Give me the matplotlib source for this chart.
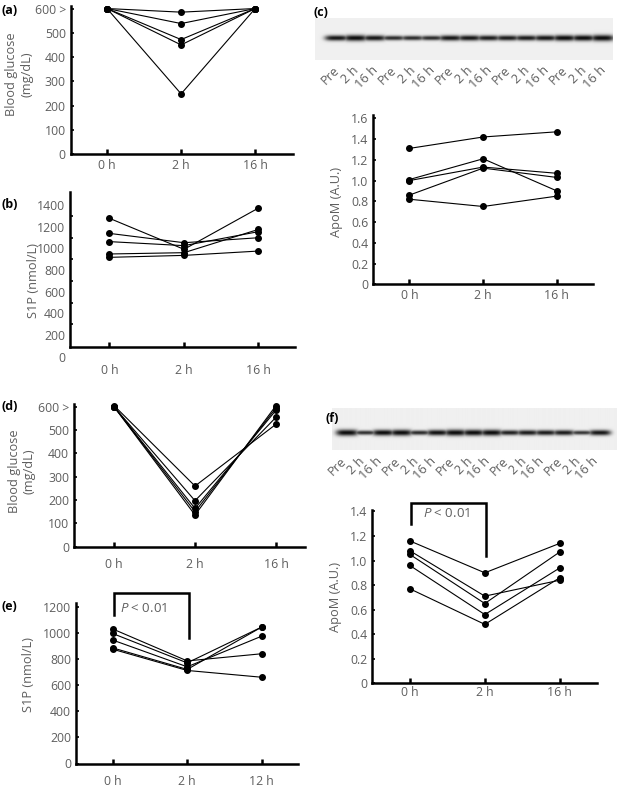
"""Blood glucose, S1P and ApoM time courses with western blots (panels a-f)."""

import matplotlib

matplotlib.use("Agg")
import matplotlib.pyplot as plt
import numpy as np

plt.rcParams["font.family"] = ["Open Sans", "DejaVu Sans"]
plt.rcParams["mathtext.fontset"] = "custom"
plt.rcParams["mathtext.rm"] = "Open Sans"
plt.rcParams["mathtext.it"] = "Open Sans:italic"

W, H = 620, 790
GREY = "#5e5e5e"
TICK_FS = 8.8

# ---- data ----
times_16 = ["0 h", "2 h", "16 h"]
times_12 = ["0 h", "2 h", "12 h"]
lane_labels = ["Pre", "2 h", "16 h"] * 5

glucose_a = [
    [600, 585, 600],
    [600, 538, 600],
    [600, 472, 600],
    [600, 450, 600],
    [600, 248, 600],
]
s1p_b = [
    [1277, 991, 1372],
    [1138, 1052, 1098],
    [1062, 1025, 1154],
    [948, 960, 1175],
    [917, 935, 975],
]
apom_c = [
    [1.31, 1.42, 1.47],
    [1.01, 1.21, 0.90],
    [1.00, 1.13, 1.07],
    [0.86, 1.12, 1.03],
    [0.82, 0.75, 0.85],
]
glucose_d = [
    [605, 260, 525],
    [600, 197, 555],
    [600, 164, 585],
    [600, 150, 595],
    [600, 136, 605],
]
s1p_e = [
    [1030, 785, 840],
    [995, 770, 1045],
    [945, 740, 975],
    [885, 720, 1045],
    [875, 712, 660],
]
apom_f = [
    [1.16, 0.90, 1.14],
    [1.08, 0.71, 0.84],
    [1.05, 0.65, 1.07],
    [0.96, 0.56, 0.94],
    [0.77, 0.48, 0.86],
]
band_c = [0.8, 0.95, 0.8, 0.6, 0.6, 0.6, 0.8, 0.8, 0.75, 0.75, 0.75, 0.8, 0.9, 0.9, 1.0]
band_f = [1.0, 0.55, 0.9, 0.95, 0.6, 0.85, 1.0, 0.95, 0.95, 0.7, 0.75, 0.75, 0.75, 0.5, 0.8]


def px_axes(fig, x0, x1, y_top, y_bot):
    return fig.add_axes([x0 / W, 1 - y_bot / H, (x1 - x0) / W, (y_bot - y_top) / H])


def fig_text(fig, x, y, s, **kw):
    return fig.text(x / W, 1 - y / H, s, **kw)


def line_panel(fig, box, xlim, ylim, series, xlabels, yticks, ylabels, xpad, spine_at=None):
    ax = px_axes(fig, *box)
    xs = np.arange(len(xlabels))
    for s in series:
        ax.plot(xs, s, "-o", color="black", lw=0.8, ms=4.0, clip_on=False, zorder=3)
    ax.set_xlim(*xlim)
    ax.set_ylim(*ylim)
    ax.set_xticks(xs)
    ax.set_xticklabels(xlabels)
    ax.set_yticks(yticks)
    ax.set_yticklabels(ylabels)
    for side in ("top", "right"):
        ax.spines[side].set_visible(False)
    for side in ("left", "bottom"):
        ax.spines[side].set_linewidth(1.8)
    ax.tick_params(axis="x", direction="in", length=3.5, width=1.8, pad=xpad,
                   labelsize=TICK_FS, labelcolor=GREY)
    ax.tick_params(axis="y", direction="in", length=2.5, width=1.2, pad=3.5,
                   labelsize=TICK_FS, labelcolor=GREY)
    if spine_at is not None:
        ax.spines["bottom"].set_position(("data", spine_at))
        ax.spines["left"].set_bounds(spine_at, ylim[1])
    ax.patch.set_alpha(0)
    return ax


def bracket(ax, x0, x1, top, left_bot, right_bot, text_x, text_y):
    ax.plot([x0, x0, x1, x1], [left_bot, top, top, right_bot], color="black",
            lw=1.8, clip_on=False, solid_joinstyle="miter")
    ax.text(text_x, text_y, r"$P$ < 0.01", fontsize=9.5, color=GREY, va="center",
            ha="left", clip_on=False)


def draw_blot(fig, box, lane_span, band_y, intensity, label_y, label_dx):
    x0, x1, y0, y1 = box
    ax = px_axes(fig, x0, x1, y0, y1)
    xs = np.linspace(x0, x1, int((x1 - x0) * 4))
    ys = np.linspace(y0, y1, int((y1 - y0) * 4))
    n = len(intensity)
    lane_w = (lane_span[1] - lane_span[0]) / n
    centers = lane_span[0] + lane_w * (np.arange(n) + 0.5)
    dark = np.zeros((len(ys), len(xs)))
    for c, k in zip(centers, intensity):
        prof_x = np.exp(-((xs - c) / (lane_w * 0.62)) ** 4)
        sig = 1.0 + 2.2 * k
        prof_y = np.exp(-((ys - band_y) / sig) ** 2)
        dark = np.maximum(dark, min(1.0, 0.6 + 0.45 * k) * np.outer(prof_y, prof_x))
    img = 0.94 - 0.9 * np.clip(dark, 0, 1)
    ax.imshow(img, cmap="gray", vmin=0, vmax=1, extent=(x0, x1, y1, y0),
              aspect="auto", interpolation="bilinear")
    ax.set_axis_off()
    for c, lab in zip(centers, lane_labels):
        fig_text(fig, c + label_dx, label_y, lab, rotation=45, ha="right", va="top",
                 fontsize=9.2, color=GREY)


def main():
    fig = plt.figure(figsize=(W / 100, H / 100), dpi=100)

    g_ticks = list(range(0, 601, 100))
    g_labels = [str(v) for v in g_ticks[:-1]] + ["600 >"]

    # (a)
    line_panel(fig, (70.7, 293, 6.1, 154), (-0.49, 2.51), (0, 610), glucose_a,
               times_16, g_ticks, g_labels, xpad=3.5)

    # (b)
    b_ticks = list(range(0, 1401, 200))
    ax_b = line_panel(fig, (70, 295, 192, 356.7), (-0.53, 2.49), (0, 1520), s1p_b,
                      times_16, b_ticks, [str(v) for v in b_ticks], xpad=12.5,
                      spine_at=92)
    ax_b.tick_params(axis="y", which="major", length=0)
    ax_b.set_yticks(range(300, 1400, 200), minor=True)
    ax_b.tick_params(axis="y", which="minor", direction="in", length=2.5, width=1.2)

    # (c)
    a_ticks = [round(0.2 * i, 1) for i in range(9)]
    draw_blot(fig, (315, 613, 18, 60), (327, 612), 38, band_c, label_y=64, label_dx=6)
    line_panel(fig, (373.3, 593, 115.2, 284.3), (-0.49, 2.49), (0, 1.63), apom_c,
               times_16, a_ticks, ["0"] + [f"{v:.1f}" for v in a_ticks[1:]], xpad=3.5)

    # (d)
    line_panel(fig, (74, 305, 404.4, 546.7), (-0.494, 2.358), (0, 610), glucose_d,
               times_16, g_ticks, g_labels, xpad=8)

    # (e)
    e_ticks = list(range(0, 1201, 200))
    ax_e = line_panel(fig, (76, 297.7, 603.3, 763.5), (-0.49, 2.48), (0, 1226), s1p_e,
                      times_12, e_ticks, [str(v) for v in e_ticks], xpad=8)
    bracket(ax_e, 0.02, 1.02, 1307, 1137, 959, 0.1, 1188)

    # (f)
    f_ticks = [round(0.2 * i, 1) for i in range(8)]
    draw_blot(fig, (332, 616, 408, 450), (338, 608), 432.7, band_f, label_y=455, label_dx=2)
    ax_f = line_panel(fig, (372.3, 597.3, 510.2, 683.3), (-0.5, 2.5), (0, 1.41), apom_f,
                      times_16, f_ticks, ["0"] + [f"{v:.1f}" for v in f_ticks[1:]], xpad=2)
    bracket(ax_f, 0.02, 1.01, 1.47, 1.30, 1.04, 0.17, 1.385)

    # axis titles
    ylab = dict(rotation=90, ha="center", va="center", fontsize=9.2, color=GREY,
                linespacing=1.2)
    fig_text(fig, 19.5, 74, "Blood glucose\n(mg/dL)", **ylab)
    fig_text(fig, 33.3, 280, "S1P (nmol/L)", **ylab)
    fig_text(fig, 336.7, 202, "ApoM (A.U.)", **ylab)
    fig_text(fig, 21.7, 471, "Blood glucose\n(mg/dL)", **ylab)
    fig_text(fig, 28.3, 675, "S1P (nmol/L)", **ylab)
    fig_text(fig, 335, 597, "ApoM (A.U.)", **ylab)

    # panel letters
    letter = dict(fontsize=9, fontweight="bold", ha="left", va="center", color="black")
    fig_text(fig, 1, 10, "(a)", **letter)
    fig_text(fig, 1, 205, "(b)", **letter)
    fig_text(fig, 314, 13, "(c)", **letter)
    fig_text(fig, 1, 407, "(d)", **letter)
    fig_text(fig, 1, 607, "(e)", **letter)
    fig_text(fig, 326, 418, "(f)", **letter)

    fig.savefig("out.png", dpi=100, facecolor="white")
    plt.close(fig)


if __name__ == "__main__":
    main()
